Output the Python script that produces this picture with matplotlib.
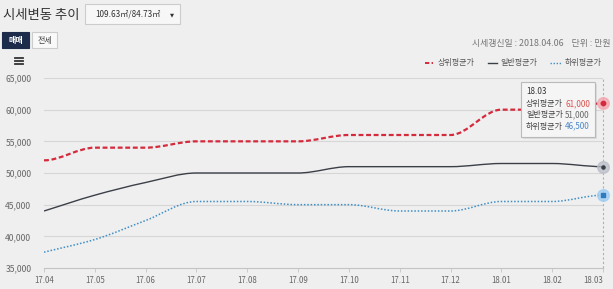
import numpy as np
import matplotlib
matplotlib.use("Agg")
import matplotlib.pyplot as plt
from matplotlib.path import Path
from matplotlib.patches import PathPatch, Rectangle, FancyBboxPatch

plt.rcParams['font.family'] = ['Noto Sans CJK KR', 'DejaVu Sans']

# ==========================================================
# DATA (만원)
# ==========================================================
months = ["17.04", "17.05", "17.06", "17.07", "17.08", "17.09",
          "17.10", "17.11", "17.12", "18.01", "18.02", "18.03"]
upper_avg = [52000, 54000, 54000, 55000, 55000, 55000,
             56000, 56000, 56000, 60000, 60000, 61000]
normal_avg = [44000, 46500, 48500, 50000, 50000, 50000,
              51000, 51000, 51000, 51500, 51500, 51000]
lower_avg = [37500, 39500, 42500, 45500, 45500, 45000,
             45000, 44000, 44000, 45500, 45500, 46500]
y_ticks = [35000, 40000, 45000, 50000, 55000, 60000, 65000]

W, H = 613, 289
BG = "#efefef"
RED = "#d42a3c"
DARK = "#3b3f48"
BLUE = "#3f8fc6"


def fx(x):
    return x / W


def fy(y):
    return 1 - y / H


def smooth_path(ys):
    """monotone cubic bezier through the points (flat at plateaus)"""
    xs = np.arange(len(ys), dtype=float)
    ys = np.asarray(ys, dtype=float)
    d = np.diff(ys)
    m = np.zeros(len(ys))
    for i in range(1, len(ys) - 1):
        if d[i - 1] * d[i] > 0:
            m[i] = 2 / (1 / d[i - 1] + 1 / d[i])
    m[0] = d[0] if d[1] * d[0] > 0 else 0
    m[-1] = d[-1] if d[-1] * d[-2] > 0 else 0
    verts = [(xs[0], ys[0])]
    codes = [Path.MOVETO]
    for i in range(len(ys) - 1):
        verts += [(xs[i] + 1 / 3, ys[i] + m[i] / 3),
                  (xs[i + 1] - 1 / 3, ys[i + 1] - m[i + 1] / 3),
                  (xs[i + 1], ys[i + 1])]
        codes += [Path.CURVE4] * 3
    return Path(verts, codes)


fig = plt.figure(figsize=(W / 100, H / 100), dpi=100, facecolor=BG)
ax = fig.add_axes([fx(44), fy(268), fx(603) - fx(44), fy(78) - fy(268)])
ax.set_facecolor(BG)
ax.set_xlim(0, len(months) - 1)
ax.set_ylim(35000, 65000)

for v in y_ticks[1:]:
    ax.axhline(v, color="#d6d6d6", lw=0.8, zorder=1)
for s in ["top", "right", "left"]:
    ax.spines[s].set_visible(False)
ax.spines["bottom"].set_color("#c4c4c4")
ax.spines["bottom"].set_linewidth(0.8)

ax.set_yticks(y_ticks)
ax.set_yticklabels([f"{v:,}" for v in y_ticks])
ax.set_xticks(range(len(months)))
ax.set_xticklabels(months)
ax.tick_params(axis="y", length=0, pad=9, labelsize=6.2, labelcolor="#666666")
ax.tick_params(axis="x", length=3, width=0.6, color="#c4c4c4", pad=3,
               labelsize=5.7, labelcolor="#666666")
ax.get_xticklabels()[-1].set_horizontalalignment("right")

# crosshair at last month
ax.plot([len(months) - 1] * 2, [35000, 65000], color="#b0b0b0", lw=0.8,
        ls=(0, (2, 2)), zorder=2, clip_on=False)

ax.add_patch(PathPatch(smooth_path(upper_avg), fill=False, ec=RED, lw=1.6,
                       ls=(0, (2.2, 1.2)), zorder=4))
ax.add_patch(PathPatch(smooth_path(normal_avg), fill=False, ec=DARK, lw=1.0,
                       zorder=4))
ax.add_patch(PathPatch(smooth_path(lower_avg), fill=False, ec=BLUE, lw=1.1,
                       ls=(0, (1, 1.2)), zorder=4))

# hover markers
xl = len(months) - 1
ax.scatter([xl], [upper_avg[-1]], s=70, color="#f3a3ad", alpha=0.75, zorder=5, clip_on=False)
ax.scatter([xl], [upper_avg[-1]], s=10, color=RED, zorder=6, clip_on=False)
ax.scatter([xl], [normal_avg[-1]], s=70, color="#b9bdc6", alpha=0.75, zorder=5, clip_on=False)
ax.scatter([xl], [normal_avg[-1]], s=5, color=DARK, zorder=6, clip_on=False)
ax.scatter([xl], [lower_avg[-1]], s=70, color="#9fcdf2", alpha=0.8, zorder=5, clip_on=False)
ax.scatter([xl], [lower_avg[-1]], s=10, marker="s", color="#2e7bc0", zorder=6, clip_on=False)

# tooltip
fig.patches.append(FancyBboxPatch((fx(523), fy(139)), fx(74), fy(84) - fy(139),
                                  boxstyle="square,pad=0", transform=fig.transFigure,
                                  fc="#555555", ec="none", alpha=0.12, zorder=7))
fig.patches.append(FancyBboxPatch((fx(521), fy(137)), fx(74), fy(82) - fy(137),
                                  boxstyle="square,pad=0", transform=fig.transFigure,
                                  fc="#f6f6f6", ec="#b8b8b8", lw=0.8, alpha=0.97, zorder=8))
tip_font = dict(fontsize=5.8, va="center", zorder=9)
fig.text(fx(526), fy(92), months[-1], color="#333333", **tip_font)
tip_rows = [("상위평균가", upper_avg[-1], "#d9534f"),
            ("일반평균가", normal_avg[-1], "#666666"),
            ("하위평균가", lower_avg[-1], "#4a86c8")]
for i, (name, val, col) in enumerate(tip_rows):
    yy = fy(103.5 + i * 11.3)
    fig.text(fx(526), yy, name, color="#444444", **tip_font)
    fig.text(fx(565), yy, f"{val:,}", color=col, **tip_font)

# header
fig.text(fx(3), fy(14.5), "시세변동 추이", fontsize=9.6, color="#333333", va="center")
fig.patches.append(Rectangle((fx(85), fy(24)), fx(95), fy(4) - fy(24),
                             transform=fig.transFigure, fc="#f7f7f7", ec="#cccccc", lw=0.8))
fig.text(fx(95), fy(14.5), "109.63㎡/84.73㎡", fontsize=5.9, color="#333333", va="center")
fig.text(fx(172), fy(14.5), "▼", fontsize=3.8, color="#333333", va="center", ha="center",
         family=["DejaVu Sans"])

fig.patches.append(Rectangle((fx(2), fy(48)), fx(27), fy(32) - fy(48),
                             transform=fig.transFigure, fc="#1e2c4c", ec="#1e2c4c", lw=0.8))
fig.text(fx(15.5), fy(40.5), "매매", fontsize=5.8, color="white", va="center", ha="center",
         weight="bold")
fig.patches.append(Rectangle((fx(32), fy(48)), fx(25), fy(32) - fy(48),
                             transform=fig.transFigure, fc="#f9f9f9", ec="#cccccc", lw=0.8))
fig.text(fx(44.5), fy(40.5), "전세", fontsize=5.8, color="#444444", va="center", ha="center")

for yy in [58, 61, 64]:
    fig.add_artist(plt.Line2D([fx(15), fx(23)], [fy(yy), fy(yy)], color="#333333", lw=1.3))

fig.text(fx(611), fy(43), "시세갱신일 : 2018.04.06    단위 : 만원", fontsize=6.4,
         color="#777777", va="center", ha="right")

# legend
leg = [("상위평균가", RED, (0, (2.2, 1.2)), 1.4, 425, 433, 438),
       ("일반평균가", DARK, "-", 1.0, 488, 497, 500),
       ("하위평균가", BLUE, (0, (1, 1.2)), 1.0, 550, 562, 565)]
for name, col, ls, lw, x0, x1, xt in leg:
    fig.add_artist(plt.Line2D([fx(x0), fx(x1)], [fy(62.5), fy(62.5)], color=col, ls=ls, lw=lw))
    fig.text(fx(xt), fy(62.5), name, fontsize=5.8, color="#555555", va="center")

fig.savefig("out.png", dpi=100, facecolor=BG)
